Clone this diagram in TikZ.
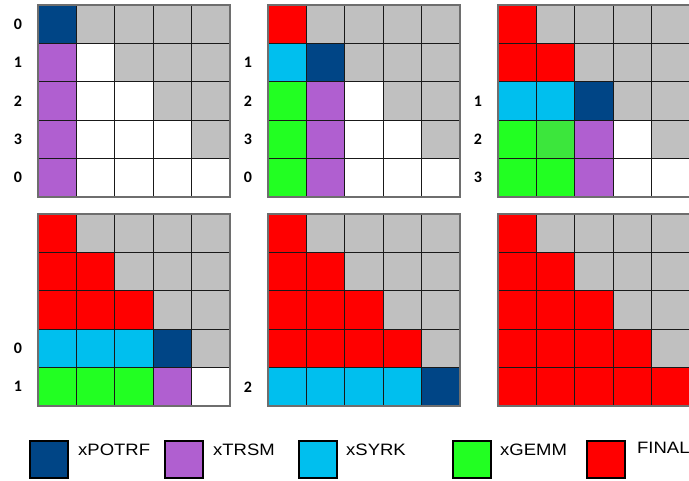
\documentclass[tikz,border=0pt]{standalone}
\usepackage{fontspec}
\setmainfont{Liberation Sans}
\newfontfamily\labfont{Carlito}
\definecolor{cB}{HTML}{004586}
\definecolor{cP}{HTML}{B05FD0}
\definecolor{cC}{HTML}{00BFEE}
\definecolor{cGr}{HTML}{22FF22}
\definecolor{cGt}{HTML}{3CE63C}
\definecolor{cR}{HTML}{FF0000}
\definecolor{cG}{HTML}{C0C0C0}
\definecolor{cW}{HTML}{FFFFFF}
\definecolor{cEdge}{HTML}{6E6E6E}
\tikzset{
  cellbox/.style={draw=black!90, line width=0.8pt},
  gridborder/.style={draw=cEdge, line width=1.2pt},
  rowlabel/.style={font=\labfont\bfseries\fontsize{16}{16}\selectfont, inner sep=0pt},
  legbox/.style={draw=black, line width=2pt, minimum width=38pt, minimum height=37pt, inner sep=0pt, anchor=north west},
  legtext/.style={font=\fontsize{16.5}{17}\selectfont, inner sep=0pt, anchor=west}
}
\newcommand{\cellrow}[4]{% x, y, row index, colours
  \foreach \col [count=\i from 0] in {#4} {
    \draw[cellbox, fill=\col] (#1+38.4*\i, #2+38.4*#3) rectangle ++(38.4,38.4);
  }}
\newcommand{\gridedge}[2]{\draw[gridborder] (#1,#2) rectangle ++(192,192);}
\newcommand{\rowlab}[5]{\node[rowlabel] (#1) at (#2, #3+19.2+38.4*#4) {#5};}
\begin{document}
\begin{tikzpicture}[x=1pt,y=-1pt]
\useasboundingbox (0,0) rectangle (689,481);
\clip (0,0) rectangle (689,481);
% Grid 1
\cellrow{38}{5}{0}{cB,cG,cG,cG,cG}
\cellrow{38}{5}{1}{cP,cW,cG,cG,cG}
\cellrow{38}{5}{2}{cP,cW,cW,cG,cG}
\cellrow{38}{5}{3}{cP,cW,cW,cW,cG}
\cellrow{38}{5}{4}{cP,cW,cW,cW,cW}
\gridedge{38}{5}
\rowlab{la0}{18}{5}{0}{0}
\rowlab{la1}{18}{5}{1}{1}
\rowlab{la2}{18}{5}{2}{2}
\rowlab{la3}{18}{5}{3}{3}
\rowlab{la4}{18}{5}{4}{0}
% Grid 2
\cellrow{268}{5}{0}{cR,cG,cG,cG,cG}
\cellrow{268}{5}{1}{cC,cB,cG,cG,cG}
\cellrow{268}{5}{2}{cGr,cP,cW,cG,cG}
\cellrow{268}{5}{3}{cGr,cP,cW,cW,cG}
\cellrow{268}{5}{4}{cGr,cP,cW,cW,cW}
\gridedge{268}{5}
\rowlab{lb1}{248}{5}{1}{1}
\rowlab{lb2}{248}{5}{2}{2}
\rowlab{lb3}{248}{5}{3}{3}
\rowlab{lb4}{248}{5}{4}{0}
% Grid 3
\cellrow{498}{5}{0}{cR,cG,cG,cG,cG}
\cellrow{498}{5}{1}{cR,cR,cG,cG,cG}
\cellrow{498}{5}{2}{cC,cC,cB,cG,cG}
\cellrow{498}{5}{3}{cGr,cGt,cP,cW,cG}
\cellrow{498}{5}{4}{cGr,cGr,cP,cW,cW}
\gridedge{498}{5}
\rowlab{lc2}{478}{5}{2}{1}
\rowlab{lc3}{478}{5}{3}{2}
\rowlab{lc4}{478}{5}{4}{3}
% Grid 4
\cellrow{38}{214}{0}{cR,cG,cG,cG,cG}
\cellrow{38}{214}{1}{cR,cR,cG,cG,cG}
\cellrow{38}{214}{2}{cR,cR,cR,cG,cG}
\cellrow{38}{214}{3}{cC,cC,cC,cB,cG}
\cellrow{38}{214}{4}{cGr,cGr,cGr,cP,cW}
\gridedge{38}{214}
\rowlab{ld3}{18}{214}{3}{0}
\rowlab{ld4}{18}{214}{4}{1}
% Grid 5
\cellrow{268}{214}{0}{cR,cG,cG,cG,cG}
\cellrow{268}{214}{1}{cR,cR,cG,cG,cG}
\cellrow{268}{214}{2}{cR,cR,cR,cG,cG}
\cellrow{268}{214}{3}{cR,cR,cR,cR,cG}
\cellrow{268}{214}{4}{cC,cC,cC,cC,cB}
\gridedge{268}{214}
\rowlab{le4}{248}{214}{4}{2}
% Grid 6
\cellrow{498}{214}{0}{cR,cG,cG,cG,cG}
\cellrow{498}{214}{1}{cR,cR,cG,cG,cG}
\cellrow{498}{214}{2}{cR,cR,cR,cG,cG}
\cellrow{498}{214}{3}{cR,cR,cR,cR,cG}
\cellrow{498}{214}{4}{cR,cR,cR,cR,cR}
\gridedge{498}{214}
% Legend
\node[legbox, fill=cB] (k1) at (29,440) {};
\node[legtext] (t1) at (78,450) {\scalebox{1.12}[1]{xPOTRF}};
\node[legbox, fill=cP] (k2) at (164,440) {};
\node[legtext] (t2) at (213,450) {\scalebox{1.12}[1]{xTRSM}};
\node[legbox, fill=cC] (k3) at (298,440) {};
\node[legtext] (t3) at (346,450) {\scalebox{1.12}[1]{xSYRK}};
\node[legbox, fill=cGr] (k4) at (452,440) {};
\node[legtext] (t4) at (500,450) {\scalebox{1.12}[1]{xGEMM}};
\node[legbox, fill=cR] (k5) at (586,440) {};
\node[legtext] (t5) at (637,448) {\scalebox{1.12}[1]{FINAL}};
\end{tikzpicture}
\end{document}
